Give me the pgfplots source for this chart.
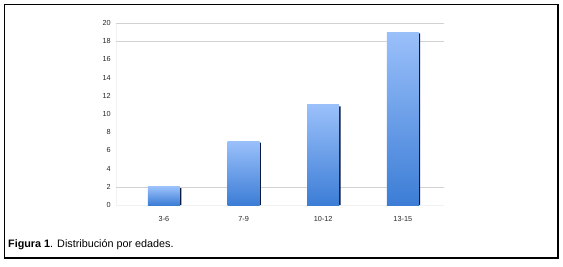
\documentclass[border=0pt]{standalone}
\usepackage{pgfplots}
\pgfplotsset{compat=1.18}
\usepackage{fontspec}
\setmainfont{Liberation Sans}
\definecolor{bartop}{HTML}{9AC0FA}
\definecolor{barbot}{HTML}{3C7DD6}
\definecolor{baredge}{HTML}{0A1A40}
\begin{document}
\begin{tikzpicture}[x=1pt,y=1pt]
\path (0,0) rectangle (563,266);
\draw[line width=1.3pt] (4.5,8) rectangle (558,261.5);
\begin{axis}[
  at={(146,67)}, anchor=south west,
  scale only axis, width=328pt, height=182pt,
  xmin=-0.6, xmax=3.52, ymin=0, ymax=20,
  xtick={0,1,2,3}, xticklabels={3-6,7-9,10-12,13-15},
  ytick={0,2,...,20},
  extra y ticks={2,18,20}, extra y tick labels={},
  extra y tick style={grid=major, major grid style={gray!35, line width=0.6pt}},
  axis line style={draw=gray!10},
  axis x line*=bottom, axis y line*=left,
  tick style={draw=none},
  ticklabel style={font=\fontsize{7.3}{8}\selectfont, text=black!85},
  /pgf/number format/assume math mode=true,
  yticklabel style={xshift=-2pt},
  xticklabel style={yshift=-8pt},
  clip=false,
]
\addplot[ybar, bar width=32pt, bar shift=1.3pt, fill=baredge, draw=none]
  coordinates {(0,1.85) (1,6.85) (2,10.85) (3,18.85)};
\addplot[ybar, bar width=32pt, bar shift=0pt, draw=none, shade, top color=bartop, bottom color=barbot]
  coordinates {(0,2)};
\addplot[ybar, bar width=32pt, bar shift=0pt, draw=none, shade, top color=bartop, bottom color=barbot]
  coordinates {(1,7)};
\addplot[ybar, bar width=32pt, bar shift=0pt, draw=none, shade, top color=bartop, bottom color=barbot]
  coordinates {(2,11)};
\addplot[ybar, bar width=32pt, bar shift=0pt, draw=none, shade, top color=bartop, bottom color=barbot]
  coordinates {(3,19)};
\end{axis}
\node[anchor=base west, font=\fontsize{10.8}{12}\selectfont, inner sep=0pt] at (8,18.5) {\textbf{Figura 1}. Distribución por edades.};
\end{tikzpicture}
\end{document}
